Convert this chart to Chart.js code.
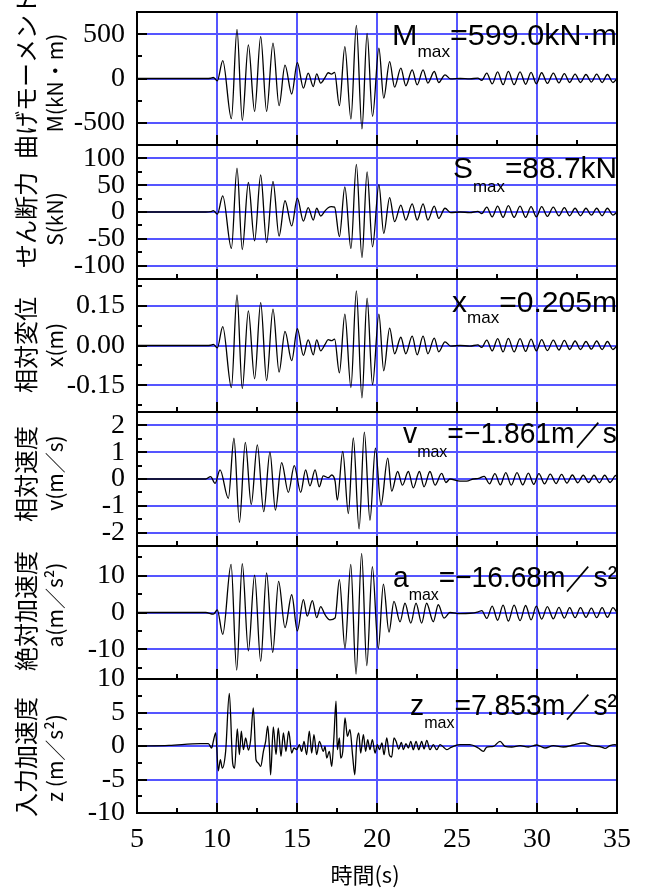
<!DOCTYPE html>
<html>
<head>
<meta charset="utf-8">
<script src="https://cdn.jsdelivr.net/npm/chart.js@4.4.1/dist/chart.umd.min.js"></script>
<style>
html, body { margin: 0; padding: 0; background: #fff; }
#wrap { position: relative; width: 646px; height: 888px; overflow: hidden; }
#wrap canvas { position: absolute; left: 0; }
</style>
</head>
<body>
<div id="wrap"></div>
<script>
// time axis
const timeTicks = [5, 10, 15, 20, 25, 30, 35];

// bending moment, shear, displacement share the same sampling times (s)
const timeMSx = [
  5, 9.3, 9.6, 9.77, 10.02, 10.36, 10.9, 11.25, 11.58, 11.96,
  12.35, 12.73, 13.1, 13.5, 13.88, 14.25, 14.67, 15.02, 15.4, 15.7,
  16.02, 16.23, 16.48, 16.75, 16.95, 17.15, 17.35, 17.65, 17.99, 18.37,
  18.71, 19.06, 19.38, 19.72, 20.12, 20.42, 20.79, 21.1, 21.49, 21.8,
  22.2, 22.51, 22.88, 23.18, 23.58, 23.86, 24.25, 24.6, 25.2, 25.8,
  26.3, 26.55, 26.86, 27.2, 27.54, 27.88, 28.21, 28.57, 28.94, 29.29,
  29.63, 29.96, 30.29, 30.65, 31.02, 31.37, 31.71, 32.04, 32.38, 32.72,
  33.06, 33.4, 33.73, 34.07, 34.4, 34.75, 35
];
const momentVals = [
  0, 0, 3, 11, -26, 202, -453, 555, -472, 379,
  -371, 472, -371, 398, -307, 150, -175, 180, -108, 60,
  -90, 53, -52, 10, 65, 50, 70, -307, 360, -457,
  599, -569, 510, -427, 341, -221, 191, -97, 117, -82,
  98, -71, 98, -52, 79, -45, 42, -5, 0, -5,
  5, -20, 60, -60, 75, -70, 80, -70, 75, -65,
  70, -60, 65, -55, 60, -50, 55, -45, 50, -45,
  45, -40, 50, -45, 45, -45, 0
];
const shearVals = [
  0, 0, 0.5, 2.5, -4, 30, -68, 82, -70, 55,
  -54, 69, -57, 57, -45, 21, -26, 26, -17, 8,
  -15, 7, -7.5, 2, 8, 10, 9, -46, 47, -68,
  88.7, -85, 75, -65, 51, -40, 27, -18, 13, -15,
  15, -15, 15, -15, 11, -12, 7, -1, 0, -1,
  1, -3, 9, -9, 11, -10, 12, -10, 11, -10,
  10, -9, 10, -8, 9, -7, 8, -7, 7, -7,
  7, -6, 7, -7, 7, -6, 0
];
const dispVals = [
  0, 0, 0.001, 0.004, -0.009, 0.071, -0.158, 0.19, -0.162, 0.13,
  -0.125, 0.161, -0.132, 0.137, -0.1, 0.053, -0.057, 0.063, -0.037, 0.021,
  -0.035, 0.021, -0.02, 0.004, 0.022, 0.018, 0.024, -0.103, 0.118, -0.158,
  0.205, -0.197, 0.178, -0.147, 0.118, -0.095, 0.065, -0.031, 0.031, -0.031,
  0.035, -0.035, 0.035, -0.031, 0.028, -0.024, 0.014, -0.002, 0, -0.002,
  0.002, -0.007, 0.02, -0.02, 0.026, -0.024, 0.027, -0.024, 0.026, -0.022,
  0.024, -0.02, 0.022, -0.019, 0.02, -0.017, 0.019, -0.015, 0.017, -0.015,
  0.015, -0.014, 0.017, -0.015, 0.015, -0.015, 0
];

// relative velocity
const timeVel = [
  5, 9.3, 9.6, 9.88, 10.19, 10.71, 11.06, 11.4, 11.77, 12.14,
  12.52, 12.92, 13.31, 13.65, 14.04, 14.46, 14.83, 15.23, 15.54, 15.81,
  16.13, 16.39, 16.64, 16.96, 17.17, 17.38, 17.52, 17.86, 18.21, 18.52,
  18.88, 19.21, 19.56, 19.9, 20.25, 20.67, 20.92, 21.29, 21.59, 21.96,
  22.27, 22.65, 22.94, 23.31, 23.63, 24.04, 24.31, 24.56, 25.19, 25.6,
  26.02, 26.35, 26.7, 27.03, 27.37, 27.71, 28.05, 28.39, 28.75, 29.11,
  29.46, 29.8, 30.12, 30.47, 30.83, 31.19, 31.54, 31.87, 32.21, 32.55,
  32.89, 33.23, 33.56, 33.9, 34.23, 34.57, 34.92, 35
];
const velVals = [
  0, 0, 0.09, -0.16, 0.34, -0.72, 1.52, -1.62, 1.37, -0.95,
  1.27, -1.22, 1.0, -1.16, 0.61, -0.5, 0.5, -0.5, 0.34, -0.26,
  0.34, -0.29, 0.12, 0.05, 0.15, -0.08, -0.79, 1.03, -1.29, 1.53,
  -1.861, 1.75, -1.54, 1.15, -0.98, 0.78, -0.45, 0.28, -0.23, 0.28,
  -0.33, 0.28, -0.29, 0.28, -0.23, 0.21, -0.13, 0, -0.08, -0.08,
  0, 0.02, 0.1, -0.18, 0.2, -0.22, 0.24, -0.23, 0.24, -0.22,
  0.22, -0.2, 0.2, -0.18, 0.18, -0.17, 0.17, -0.15, 0.15, -0.14,
  0.14, -0.13, 0.14, -0.14, 0.14, -0.13, 0.13, 0.1
];

// absolute acceleration
const timeAcc = [
  5, 9.3, 9.77, 10.02, 10.36, 10.88, 11.23, 11.58, 11.96, 12.35,
  12.73, 13.1, 13.48, 13.85, 14.25, 14.67, 15.02, 15.4, 15.64, 15.96,
  16.23, 16.48, 16.75, 17.06, 17.38, 17.65, 18.0, 18.36, 18.69, 19.04,
  19.36, 19.71, 20.08, 20.4, 20.75, 21.06, 21.44, 21.75, 22.11, 22.44,
  22.79, 23.1, 23.52, 23.83, 24.19, 24.56, 25.19, 25.81, 26.33, 26.55,
  26.86, 27.2, 27.54, 27.88, 28.21, 28.57, 28.94, 29.29, 29.63, 29.96,
  30.29, 30.65, 31.02, 31.37, 31.71, 32.04, 32.38, 32.72, 33.06, 33.4,
  33.73, 34.07, 34.4, 34.75, 35
];
const accVals = [
  0, 0, -0.45, 0.7, -5.9, 13.0, -15.6, 13.2, -10.4, 10.1,
  -13.2, 10.7, -10.8, 8.4, -4.1, 4.8, -5.0, 3.5, -1.0, 3.2,
  -1.4, 1.6, -0.6, -2.0, -1.5, 8.9, -9.7, 13.0, -16.68, 16.0,
  -14.4, 12.4, -9.7, 7.7, -5.3, 3.0, -2.5, 2.5, -2.9, 2.5,
  -2.9, 2.5, -2.5, 2.1, -1.5, 0, -0.3, -0.2, 0.2, 0.5,
  -1.6, 1.7, -2.1, 2.0, -2.3, 2.0, -2.2, 1.9, -2.0, 1.7,
  -1.8, 1.6, -1.7, 1.4, -1.5, 1.3, -1.4, 1.3, -1.3, 1.2,
  -1.4, 1.3, -1.3, 1.3, 0
];

// input acceleration
const timeInput = [
  5, 7, 8.94, 9.46, 9.67, 9.77, 9.92, 10.08, 10.21, 10.33,
  10.54, 10.77, 10.98, 11.1, 11.27, 11.4, 11.52, 11.65, 11.79, 11.96,
  12.1, 12.27, 12.44, 12.58, 12.73, 12.9, 13.04, 13.17, 13.27, 13.35,
  13.52, 13.69, 13.83, 14.0, 14.15, 14.31, 14.48, 14.67, 14.81, 14.98,
  15.15, 15.29, 15.44, 15.6, 15.77, 15.92, 16.06, 16.23, 16.4, 16.65,
  16.75, 16.86, 17.02, 17.17, 17.31, 17.44, 17.52, 17.65, 17.73, 17.86,
  18.0, 18.15, 18.31, 18.48, 18.61, 18.73, 18.86, 18.98, 19.15, 19.29,
  19.42, 19.56, 19.71, 19.88, 20.02, 20.15, 20.31, 20.44, 20.61, 20.77,
  20.92, 21.06, 21.19, 21.36, 21.52, 21.65, 21.81, 21.96, 22.11, 22.27,
  22.44, 22.61, 22.79, 22.94, 23.11, 23.31, 23.52, 23.73, 23.94, 24.15,
  24.36, 24.56, 24.88, 25.19, 25.81, 26.33, 26.65, 26.86, 27.27, 27.69,
  28.0, 28.42, 28.94, 29.46, 29.98, 30.5, 31.02, 31.65, 32.27, 32.9,
  33.42, 34.04, 34.25, 34.56, 34.88, 35
];
const inputVals = [
  0, 0.1, 0.35, 0.35, -0.3, 0.7, 1.95, -3.7, -2.05, -3.3,
  -0.8, 7.85, -2.55, -3.3, 2.55, -1.3, 2.2, -0.55, 1.2, -0.6,
  0.85, 5.7, -2.05, -2.55, -3.05, -0.8, 0.7, 2.95, -0.05, -4.3,
  2.85, -1.3, 2.7, -1.55, 1.95, -0.8, 2.2, -1.05, -0.3, -0.55,
  0.2, -0.8, 0.7, -1.3, 2.2, -1.05, 1.7, -1.3, 0.7, -0.8,
  -0.05, -1.8, -0.8, -3.05, 1.45, 6.7, -0.55, 1.2, -1.8, -0.8,
  4.2, 1.45, 2.45, -1.55, -4.3, 0.45, 1.95, -1.05, 1.7, -0.8,
  0.95, -0.55, 0.95, -1.05, 0.2, -0.55, 0.45, -1.3, 1.2, -1.3,
  -1.65, 1.2, 0.7, -0.45, 0.55, -0.55, 0.35, -0.3, 0.7, -0.55,
  0.7, -0.55, 0.7, -0.45, 0.85, -0.55, 0.2, -0.55, 0.2, -0.15,
  -0.55, -0.3, 0.05, 0.2, 0.2, -0.3, -0.8, -0.15, -0.05, 0.7,
  -0.05, -0.15, 0.05, -0.15, 0.15, -0.3, 0.05, -0.15, 0.15, 0.45,
  0.05, -0.15, -0.35, 0.05, 0.2, 0.1
];

// y tick labels of each panel
const momentTicks = [-500, 0, 500];
const shearTicks = [-100, -50, 0, 50, 100];
const dispTicks = [-0.15, 0, 0.15];
const velTicks = [-2, -1, 0, 1, 2];
const accTicks = [-10, 0, 10];
const inputTicks = [-10, -5, 0, 5, 10];

const W = 646, H = 888;
const PLOT_LEFT = 137, PLOT_RIGHT = 617;
const edges = [12, 145, 279, 412, 546, 679, 813];
const PAD = 20;
const GRID_BLUE = 'rgb(85,85,255)';

// symX: left end of the "max" note; jaY/unitY: title centres below panel top
const panels = [
  { t: timeMSx, v: momentVals, min: -750, max: 750, ticks: momentTicks, minor: 250, dec: 0,
    ja: '曲げモーメント', unit: 'M(kN・m)', sym: 'M', text: '=599.0kN·m', symX: 392, base: 33, subBase: 45, jaY: 63, unitY: 71 },
  { t: timeMSx, v: shearVals, min: -125, max: 125, ticks: shearTicks, minor: 25, dec: 0,
    ja: 'せん断力', unit: 'S(kN)', sym: 'S', text: '=88.7kN', symX: 453, base: 33, subBase: 47, jaY: 75, unitY: 74 },
  { t: timeMSx, v: dispVals, min: -0.25, max: 0.25, ticks: dispTicks, minor: 0.075, dec: 2,
    ja: '相対変位', unit: 'x(m)', sym: 'x', text: '=0.205m', symX: 452, base: 33, subBase: 44, jaY: 66, unitY: 66 },
  { t: timeVel, v: velVals, min: -2.5, max: 2.5, ticks: velTicks, minor: 0.5, dec: 0,
    ja: '相対速度', unit: 'v(m／s)', sym: 'v', text: '=\u22121.861m／s', symX: 403, base: 31, subBase: 45, jaY: 62, unitY: 61 },
  { t: timeAcc, v: accVals, min: -18, max: 18, ticks: accTicks, minor: 5, dec: 0,
    ja: '絶対加速度', unit: 'a(m／s²)', sym: 'a', text: '=\u221216.68m／s²', symX: 393, base: 41, subBase: 54, jaY: 65, unitY: 59 },
  { t: timeInput, v: inputVals, min: -10, max: 10, ticks: inputTicks, minor: 2.5, dec: 0,
    ja: '入力加速度', unit: 'z (m／s²)', sym: 'z', text: '=7.853m／s²', symX: 410, base: 36, subBase: 49, jaY: 78, unitY: 79 }
];

const decorPlugin = {
  id: 'decor',
  afterDatasetsDraw(chart, args, p) {
    const ctx = chart.ctx, a = chart.chartArea;
    const xs = chart.scales.x, ys = chart.scales.y;
    ctx.save();
    ctx.strokeStyle = '#000';
    ctx.lineWidth = 2;
    ctx.beginPath();
    // time ticks on the bottom edge, pointing inward
    for (let i = 1; i < 12; i++) {
      const px = Math.round(xs.getPixelForValue(5 + i * 2.5));
      const len = i % 2 === 0 ? 10 : 5;
      ctx.moveTo(px, a.bottom);
      ctx.lineTo(px, a.bottom - len);
    }
    // value ticks on the left edge
    const k0 = Math.ceil(p.min / p.minor - 1e-6), k1 = Math.floor(p.max / p.minor + 1e-6);
    for (let k = k0; k <= k1; k++) {
      const v = k * p.minor;
      if (Math.abs(v - p.min) < 1e-9 || Math.abs(v - p.max) < 1e-9) continue;
      const major = p.ticks.some(tv => Math.abs(tv - v) < 1e-9);
      const py = Math.round(ys.getPixelForValue(v));
      ctx.moveTo(a.left, py);
      ctx.lineTo(a.left + (major ? 10 : 5), py);
    }
    ctx.stroke();
    ctx.strokeRect(a.left, a.top, a.right - a.left, a.bottom - a.top);

    // max value note, squeezed to span symX .. right edge
    ctx.fillStyle = '#000';
    ctx.textAlign = 'left';
    ctx.textBaseline = 'alphabetic';
    const big = '30px "Liberation Sans"', small = '17px "Liberation Sans"';
    ctx.font = big;
    const wText = ctx.measureText(p.text).width;
    const wSym = ctx.measureText(p.sym).width;
    ctx.font = small;
    const wSub = ctx.measureText('max').width;
    const total = wSym + wSub + wText;
    const sx = Math.min(1.1, Math.max(0.8, (a.right - p.symX) / total));
    ctx.save();
    ctx.translate(a.right, 0);
    ctx.scale(sx, 1);
    ctx.font = big;
    ctx.fillText(p.sym, -total, a.top + p.base);
    ctx.fillText(p.text, -wText, a.top + p.base);
    ctx.font = small;
    ctx.fillText('max', -wText - wSub, a.top + p.subBase);
    ctx.restore();

    // rotated axis titles
    ctx.textAlign = 'center';
    ctx.textBaseline = 'middle';
    ctx.save();
    ctx.translate(26, a.top + p.jaY);
    ctx.rotate(-Math.PI / 2);
    ctx.font = '24px "Noto Sans CJK JP"';
    ctx.fillText(p.ja, 0, 0);
    ctx.restore();
    ctx.save();
    ctx.translate(55, a.top + p.unitY);
    ctx.rotate(-Math.PI / 2);
    ctx.font = '21px "Noto Sans CJK JP"';
    ctx.fillText(p.unit, 0, 0);
    ctx.restore();

    if (p.last) {
      ctx.font = '22px "Noto Sans CJK JP"';
      ctx.fillText('時間(s)', 365, a.bottom + 62);
    }
    ctx.restore();
  }
};

const wrap = document.getElementById('wrap');

panels.forEach((p, i) => {
  const last = i === panels.length - 1;
  const top = edges[i], bottom = edges[i + 1];
  const cTop = top - PAD;
  const cHeight = last ? H - cTop : (bottom - top) + 2 * PAD;
  const canvas = document.createElement('canvas');
  canvas.width = W;
  canvas.height = cHeight;
  canvas.style.top = cTop + 'px';
  canvas.style.width = W + 'px';
  canvas.style.height = cHeight + 'px';
  wrap.appendChild(canvas);

  new Chart(canvas.getContext('2d'), {
    type: 'line',
    data: {
      datasets: [{
        data: p.t.map((x, j) => ({ x: x, y: p.v[j] })),
        borderColor: '#000',
        borderWidth: 1.3,
        pointRadius: 0,
        cubicInterpolationMode: 'monotone',
        fill: false
      }]
    },
    options: {
      responsive: false,
      animation: false,
      devicePixelRatio: 1,
      layout: { padding: { left: 0, right: W - PLOT_RIGHT, top: PAD, bottom: last ? 0 : PAD } },
      plugins: {
        legend: { display: false },
        tooltip: { enabled: false },
        decor: Object.assign({ last: last }, p)
      },
      scales: {
        x: {
          type: 'linear',
          min: 5,
          max: 35,
          afterBuildTicks: s => { s.ticks = timeTicks.map(v => ({ value: v })); },
          afterFit: s => {
            s.height = last ? H - edges[6] : 0;
            s.paddingLeft = 0;
            s.paddingRight = 0;
          },
          border: { display: false },
          grid: { color: GRID_BLUE, lineWidth: 2, drawTicks: false },
          ticks: {
            display: last,
            autoSkip: false,
            maxRotation: 0,
            color: '#000',
            padding: 10,
            font: { family: '"Liberation Serif"', size: 28 },
            callback: v => String(v)
          }
        },
        y: {
          type: 'linear',
          min: p.min,
          max: p.max,
          afterBuildTicks: s => { s.ticks = p.ticks.map(v => ({ value: v })); },
          afterFit: s => {
            s.width = PLOT_LEFT;
            s.paddingTop = 0;
            s.paddingBottom = 0;
          },
          border: { display: false },
          grid: { color: GRID_BLUE, lineWidth: 2, drawTicks: false },
          ticks: {
            autoSkip: false,
            color: '#000',
            padding: 12,
            font: { family: '"Liberation Serif"', size: 28 },
            callback: v => v.toFixed(p.dec)
          }
        }
      }
    },
    plugins: [decorPlugin]
  });
});
</script>
</body>
</html>
